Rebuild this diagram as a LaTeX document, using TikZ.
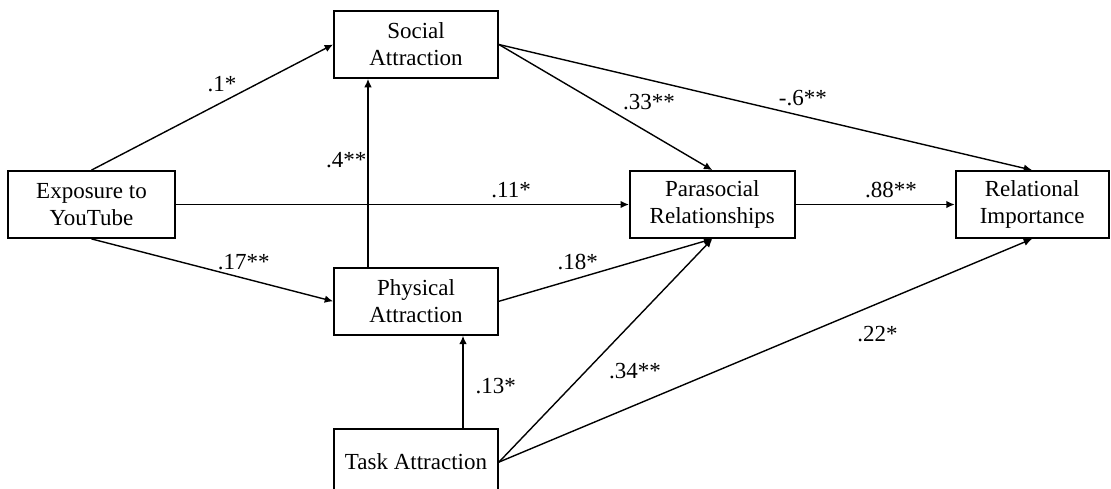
\documentclass[tikz,border=0pt]{standalone}
\usepackage{fontspec}
\setmainfont{Liberation Serif}
\usepackage{tikz}
\usetikzlibrary{arrows.meta, positioning}

\begin{document}
\begin{tikzpicture}[font=\fontsize{11.5}{13.5}\selectfont]
\tikzstyle{factor} = [rectangle, draw, line width=0.9pt, align=center, minimum height=33.5pt, inner sep=0pt]
\tikzstyle{path} = [line width=0.7pt, -{Latex[length=4.2pt,width=3.8pt]}]
\tikzstyle{coef} = [inner sep=2pt]

\useasboundingbox (-45.75pt,-141.75pt) rectangle (509.75pt,102.25pt);

\node (expo) [factor, minimum width=83.5pt] at (0,0) {Exposure to\\YouTube};
\node (para) [factor, minimum width=82.5pt, right=226.5pt of expo] {Parasocial\\Relationships};
\node (rel) [factor, minimum width=76.5pt, right=79.5pt of para] {Relational\\Importance};
\node (social) [factor, minimum width=82pt] at (162.25pt,80pt) {Social\\Attraction};
\node (physical) [factor, minimum width=82pt, below=94pt of social] {Physical\\Attraction};
\node (task) [factor, minimum width=82pt, below=46pt of physical] {Task Attraction};

% paths from exposure
\draw [path] (expo.north) -- node[coef, pos=0.54, above=3pt] {.1*} (social.west);
\draw [path] (expo.east) -- node[coef, pos=0.74, above=1pt] {.11*} (para.west);
\draw [path] (expo.south) -- node[coef, pos=0.63, above=2pt] {.17**} (physical.west);

% vertical paths
\draw [path] ([xshift=-24pt]physical.north) -- node[coef, pos=0.57, left=0pt, inner sep=0.5pt] {.4**} ([xshift=-24pt]social.south);
\draw [path] ([xshift=23.5pt]task.north) -- node[coef, pos=0.45, right=4pt] {.13*} ([xshift=23.5pt]physical.south);

% paths to parasocial and relational
\draw [path] (social.east) -- node[coef, pos=0.56, above right=0pt] {.33**} (para.north);
\draw [path] (social.east) -- node[coef, pos=0.57, above=3pt] {-.6**} (rel.north);
\draw [path] (para.east) -- node[coef, pos=0.6, above=1pt] {.88**} (rel.west);
\draw [path] (physical.east) -- node[coef, pos=0.37, above=2pt] {.18*} (para.south);
\draw [path] (task.east) -- node[coef, pos=0.41, right=9pt] {.34**} (para.south);
\draw [path] (task.east) -- node[coef, pos=0.71, below=9pt] {.22*} (rel.south);

\end{tikzpicture}
\end{document}
